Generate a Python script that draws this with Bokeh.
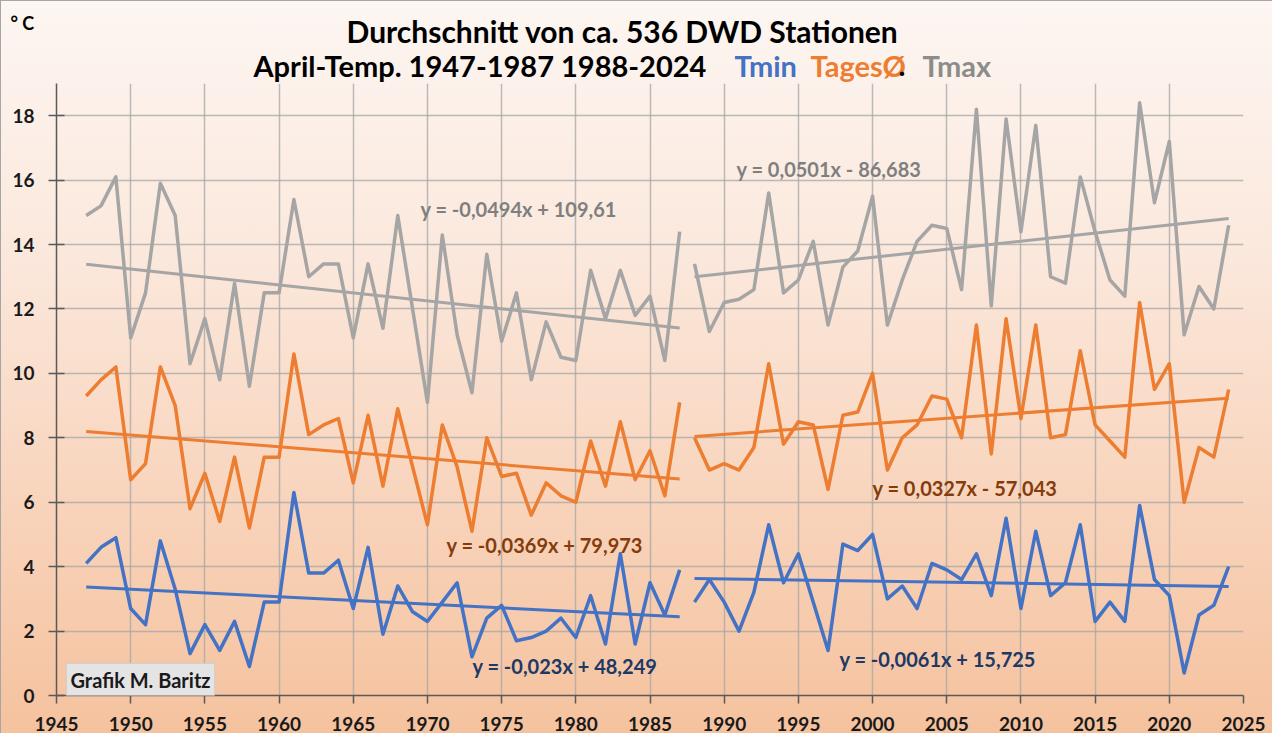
import numpy as np
from bokeh.plotting import figure
from bokeh.models import Label, Range1d, SingleIntervalTicker
from bokeh.layouts import column
from bokeh.embed import file_html
from bokeh.resources import INLINE

# ---------------- data ----------------
years_1 = list(range(1947, 1988))
years_2 = list(range(1988, 2025))

tmax_1 = [14.9, 15.2, 16.1, 11.1, 12.5, 15.9, 14.9, 10.3, 11.7, 9.8, 12.8, 9.6, 12.5, 12.5,
          15.4, 13.0, 13.4, 13.4, 11.1, 13.4, 11.4, 14.9, 12.0, 9.1, 14.3, 11.2, 9.4, 13.7,
          11.0, 12.5, 9.8, 11.6, 10.5, 10.4, 13.2, 11.7, 13.2, 11.8, 12.4, 10.4, 14.4]
tmax_2 = [13.4, 11.3, 12.2, 12.3, 12.6, 15.6, 12.5, 12.9, 14.1, 11.5, 13.3, 13.8, 15.5, 11.5,
          12.9, 14.1, 14.6, 14.5, 12.6, 18.2, 12.1, 17.9, 14.4, 17.7, 13.0, 12.8, 16.1, 14.4,
          12.9, 12.4, 18.4, 15.3, 17.2, 11.2, 12.7, 12.0, 14.6]

tages_1 = [9.3, 9.8, 10.2, 6.7, 7.2, 10.2, 9.0, 5.8, 6.9, 5.4, 7.4, 5.2, 7.4, 7.4, 10.6, 8.1,
           8.4, 8.6, 6.6, 8.7, 6.5, 8.9, 7.1, 5.3, 8.4, 7.1, 5.1, 8.0, 6.8, 6.9, 5.6, 6.6,
           6.2, 6.0, 7.9, 6.5, 8.5, 6.7, 7.6, 6.2, 9.1]
tages_2 = [8.0, 7.0, 7.2, 7.0, 7.7, 10.3, 7.8, 8.5, 8.4, 6.4, 8.7, 8.8, 10.0, 7.0, 8.0, 8.4,
           9.3, 9.2, 8.0, 11.5, 7.5, 11.7, 8.6, 11.5, 8.0, 8.1, 10.7, 8.4, 7.9, 7.4, 12.2,
           9.5, 10.3, 6.0, 7.7, 7.4, 9.5]

tmin_1 = [4.1, 4.6, 4.9, 2.7, 2.2, 4.8, 3.3, 1.3, 2.2, 1.4, 2.3, 0.9, 2.9, 2.9, 6.3, 3.8,
          3.8, 4.2, 2.7, 4.6, 1.9, 3.4, 2.6, 2.3, 2.9, 3.5, 1.2, 2.4, 2.8, 1.7, 1.8, 2.0,
          2.4, 1.8, 3.1, 1.6, 4.4, 1.6, 3.5, 2.5, 3.9]
tmin_2 = [2.9, 3.6, 2.9, 2.0, 3.2, 5.3, 3.5, 4.4, 2.9, 1.4, 4.7, 4.5, 5.0, 3.0, 3.4, 2.7,
          4.1, 3.9, 3.6, 4.4, 3.1, 5.5, 2.7, 5.1, 3.1, 3.5, 5.3, 2.3, 2.9, 2.3, 5.9, 3.6,
          3.1, 0.7, 2.5, 2.8, 4.0]

eq_tmax_1 = "y = -0,0494x + 109,61"
eq_tmax_2 = "y = 0,0501x - 86,683"
eq_tages_1 = "y = -0,0369x + 79,973"
eq_tages_2 = "y = 0,0327x - 57,043"
eq_tmin_1 = "y = -0,023x + 48,249"
eq_tmin_2 = "y = -0,0061x + 15,725"

title_1 = "Durchschnitt von ca. 536 DWD Stationen"
title_2 = "April-Temp. 1947-1987 1988-2024"
name_tmin = "Tmin"
name_tages = "TagesØ"
name_tmax = "Tmax"
unit_label = "° C"
credit = "Grafik M. Baritz"

C_TMAX = "#A5A5A5"
C_TAGES = "#ED7D31"
C_TMIN = "#4472C4"
FONT = "Lato"

W = 1272
HEAD_H = 83
MAIN_H = 650

# ---------------- header (title band) ----------------
head = figure(width=W, height=HEAD_H, output_backend="svg", toolbar_location=None,
              x_range=Range1d(0, W), y_range=Range1d(0, HEAD_H),
              x_axis_type=None, y_axis_type=None, min_border=0)
head.frame_align = False
head.title.visible = False
head.outline_line_color = None
head.background_fill_color = None
head.border_fill_color = None

def hlab(text, px, py, size, color, align="left"):
    # px, py: page pixel position (layout starts 8px from the page's top-left)
    head.add_layout(Label(x=px - 8, y=(8 + HEAD_H) - py, text=text, text_font=FONT,
                          text_font_style="bold", text_font_size=size, text_color=color,
                          text_align=align, text_baseline="middle"))

hlab(title_1, 630, 38, "30px", "#000000", align="center")
hlab(title_2, 261, 73, "29px", "#000000")
hlab(name_tmin, 742, 73, "29px", C_TMIN)
hlab(name_tages, 818, 73, "29px", C_TAGES)
hlab(".", 906, 73, "29px", "#000000")
hlab(name_tmax, 930, 73, "29px", "#8C8C8C")
hlab(unit_label, 18, 30, "18px", "#000000")

# ---------------- main chart ----------------
p = figure(width=W, height=MAIN_H, output_backend="svg", toolbar_location=None,
           x_range=Range1d(1945, 2025), y_range=Range1d(0, 19),
           min_border_left=56, min_border_right=29, min_border_top=0, min_border_bottom=38)
p.frame_align = False
p.title.visible = False
p.background_fill_color = None
p.border_fill_color = None
p.outline_line_color = None

xt = SingleIntervalTicker(interval=5)
yt = SingleIntervalTicker(interval=2)
p.xaxis.ticker = xt
p.yaxis.ticker = yt
p.xgrid.ticker = xt
p.ygrid.ticker = yt
for g in (p.xgrid, p.ygrid):
    g.grid_line_color = "#a6a6a6"
    g.grid_line_alpha = 0.75
    g.grid_line_width = 1.5

for ax in (p.xaxis, p.yaxis):
    ax.axis_line_color = "#595959"
    ax.axis_line_width = 1.5
    ax.major_tick_line_color = "#595959"
    ax.major_tick_line_width = 1.5
    ax.minor_tick_line_color = None
    ax.major_label_text_font = FONT
    ax.major_label_text_font_style = "bold"
    ax.major_label_text_font_size = "19px"
    ax.major_label_text_color = "#1a1a1a"
p.xaxis.major_tick_in = 0
p.xaxis.major_tick_out = 8
p.xaxis.major_label_standoff = 13
p.yaxis.major_tick_in = 8
p.yaxis.major_tick_out = 8
p.yaxis.major_label_standoff = 14

series = [
    (years_1, tmax_1, C_TMAX), (years_2, tmax_2, C_TMAX),
    (years_1, tages_1, C_TAGES), (years_2, tages_2, C_TAGES),
    (years_1, tmin_1, C_TMIN), (years_2, tmin_2, C_TMIN),
]
for xs, ys, col in series:
    p.line(xs, ys, line_color=col, line_width=3.5, line_join="round")
for xs, ys, col in series:
    k, d = np.polyfit(xs, ys, 1)
    xe = [xs[0], xs[-1]]
    p.line(xe, [k * v + d for v in xe], line_color=col, line_width=3)

# frame: left at page x 64, bottom at page y 703
def lab(text, px, py, size, color, align="left", **kw):
    p.add_layout(Label(x=px - 64, y=703 - py, x_units="screen", y_units="screen",
                       text=text, text_font=FONT, text_font_style="bold",
                       text_font_size=size, text_color=color, text_align=align,
                       text_baseline="middle", **kw))

lab(eq_tmax_1, 428, 216, "20px", "#7F7F7F")
lab(eq_tmax_2, 744, 176, "20px", "#7F7F7F")
lab(eq_tages_1, 454, 552, "20px", "#843C0C")
lab(eq_tages_2, 880, 495, "20px", "#843C0C")
lab(eq_tmin_1, 480, 673, "20px", "#203864")
lab(eq_tmin_2, 847, 666, "20px", "#203864")

lab(credit, 148, 687, "20px", "#1a1a1a", align="center",
    background_fill_color="#e4e4e4", border_line_color="#cfcfcf", padding=4)

layout = column(head, p, spacing=0, styles={
    "background": "linear-gradient(to bottom, #fdf6f2 0%, #fbe8dc 35%, #f8d3ba 70%, #f5c29e 100%)",
    "box-shadow": "inset 1px 1px 0 #a6a6a6",
})

open("out.html", "w").write(file_html(layout, INLINE))
